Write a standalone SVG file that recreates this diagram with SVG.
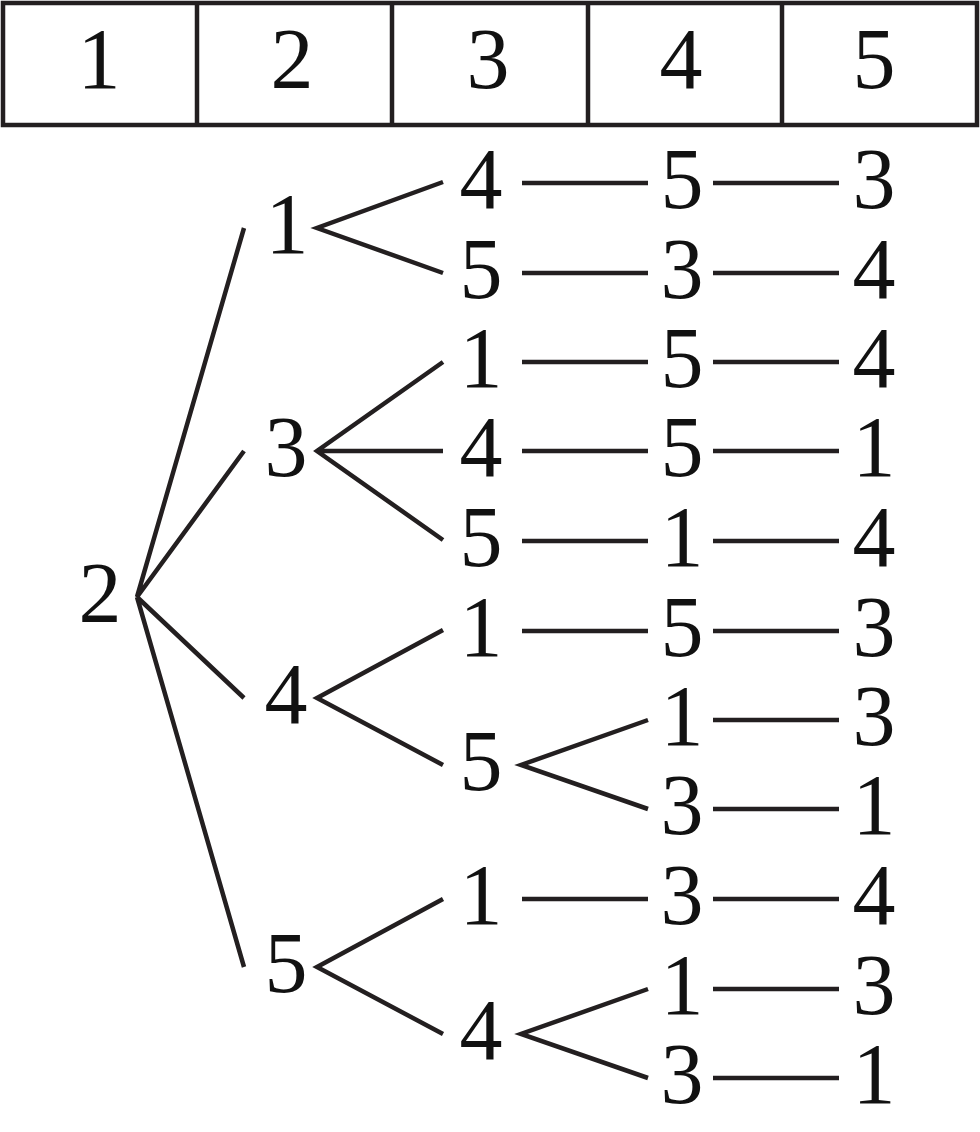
<svg xmlns="http://www.w3.org/2000/svg" width="980" height="1132" viewBox="0 0 980 1132">
<style>
.t{font-family:"Liberation Serif","Times New Roman",serif;font-size:86px;fill:#111;text-anchor:middle}
.l{stroke:#231f20;stroke-width:4.5;fill:none;stroke-linecap:butt}
</style>
<rect width="980" height="1132" fill="#fff"/>
<g id="table">
<rect x="3" y="3" width="974" height="122" class="l"/>
<line x1="197" y1="3" x2="197" y2="125" class="l"/>
<line x1="392" y1="3" x2="392" y2="125" class="l"/>
<line x1="588" y1="3" x2="588" y2="125" class="l"/>
<line x1="782" y1="3" x2="782" y2="125" class="l"/>
<text class="t" x="99" y="88">1</text>
<text class="t" x="292" y="88">2</text>
<text class="t" x="488" y="88">3</text>
<text class="t" x="681" y="88">4</text>
<text class="t" x="874" y="88">5</text>
</g>
<g id="connectors" class="l">
<path d="M244,228 L137,597 L244,451 M137,597 L244,698 M137,597 L244,967"/>
<path d="M443,182 L317,228 L443,273"/>
<path d="M443,362 L317,451 L443,540 M317,451 L443,451"/>
<path d="M443,630 L317,698 L443,765"/>
<path d="M443,899 L317,967 L443,1034"/>
<path d="M648,720 L521,765 L648,809"/>
<path d="M648,989 L521,1034 L648,1078"/>
<path d="M522,183H648M713,183H839M522,273H648M713,273H839M522,362H648M713,362H839M522,451H648M713,451H839M522,541H648M713,541H839M522,631H648M713,631H839M713,720H839M713,809H839M522,899H648M713,899H839M713,989H839M713,1078H839"/>
</g>
<g id="root"><text class="t" x="100" y="622">2</text></g>
<g id="l2-1"><text class="t" x="287" y="253">1</text></g>
<g id="l2-3"><text class="t" x="286" y="476">3</text></g>
<g id="l2-4"><text class="t" x="286" y="723">4</text></g>
<g id="l2-5"><text class="t" x="286" y="992">5</text></g>
<g id="l3">
<text class="t" x="481" y="208">4</text>
<text class="t" x="481" y="298">5</text>
<text class="t" x="481" y="387">1</text>
<text class="t" x="481" y="476">4</text>
<text class="t" x="481" y="566">5</text>
<text class="t" x="481" y="656">1</text>
<text class="t" x="481" y="790">5</text>
<text class="t" x="481" y="924">1</text>
<text class="t" x="481" y="1059">4</text>
</g>
<g id="l4">
<text class="t" x="682" y="208">5</text>
<text class="t" x="682" y="298">3</text>
<text class="t" x="682" y="387">5</text>
<text class="t" x="682" y="476">5</text>
<text class="t" x="682" y="566">1</text>
<text class="t" x="682" y="656">5</text>
<text class="t" x="682" y="745">1</text>
<text class="t" x="682" y="834">3</text>
<text class="t" x="682" y="924">3</text>
<text class="t" x="682" y="1014">1</text>
<text class="t" x="682" y="1103">3</text>
</g>
<g id="l5">
<text class="t" x="874" y="208">3</text>
<text class="t" x="874" y="298">4</text>
<text class="t" x="874" y="387">4</text>
<text class="t" x="874" y="476">1</text>
<text class="t" x="874" y="566">4</text>
<text class="t" x="874" y="656">3</text>
<text class="t" x="874" y="745">3</text>
<text class="t" x="874" y="834">1</text>
<text class="t" x="874" y="924">4</text>
<text class="t" x="874" y="1014">3</text>
<text class="t" x="874" y="1103">1</text>
</g>
</svg>
